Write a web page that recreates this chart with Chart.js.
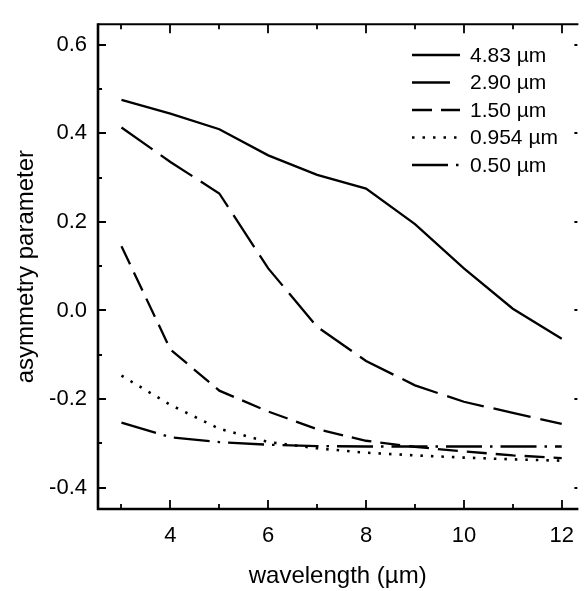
<!DOCTYPE html>
<html><head><meta charset="utf-8">
<script src="https://cdn.jsdelivr.net/npm/chart.js@4.4.0/dist/chart.umd.min.js"></script>
<style>html,body{margin:0;padding:0;background:#fff}#wrap{width:588px;height:591px}</style>
</head><body><div id="wrap"><canvas id="c" width="588" height="591"></canvas></div>
<script>
const wavelengths = [3,4,5,6,7,8,9,10,11,12];
const seriesLabels = ['4.83 \u00b5m','2.90 \u00b5m','1.50 \u00b5m','0.954 \u00b5m','0.50 \u00b5m'];
const g483  = [0.475,0.444,0.409,0.350,0.306,0.275,0.195,0.095,0.004,-0.064];
const g290  = [0.413,0.335,0.264,0.095,-0.037,-0.114,-0.169,-0.206,-0.231,-0.256];
const g150  = [0.145,-0.088,-0.181,-0.228,-0.268,-0.294,-0.308,-0.318,-0.327,-0.333];
const g0954 = [-0.147,-0.213,-0.267,-0.297,-0.311,-0.321,-0.327,-0.332,-0.336,-0.339];
const g050  = [-0.253,-0.286,-0.297,-0.303,-0.306,-0.307,-0.307,-0.307,-0.307,-0.307];
const xTicks = [4,6,8,10,12];
const xMinorTicks = [3,5,7,9,11];
const yTicks = [-0.4,-0.2,0.0,0.2,0.4,0.6];
const yMinorTicks = [-0.3,-0.1,0.1,0.3,0.5];

const seriesValues = [g483,g290,g150,g0954,g050];
const dashes = [[],[38,10],[20,9],[2.5,8],[36,8,2.5,8]];
const legendLen = [48,40,48,48,48];
const FONT = 'Liberation Sans, Arial, sans-serif';

const datasets = seriesValues.map((vals,i)=>({
  label: seriesLabels[i],
  data: wavelengths.map((w,j)=>({x:w,y:vals[j]})),
  borderColor:'#000', borderWidth: i===3?2.6:2.3, borderDash: dashes[i],
  pointRadius:0, tension:0, fill:false, borderCapStyle:'butt'
}));

const framePlugin = {
  id:'frame',
  afterDraw(chart){
    const {ctx, chartArea:a, scales:{x,y}} = chart;
    ctx.save();
    ctx.strokeStyle='#000';
    ctx.lineCap='butt';
    ctx.lineWidth=2.6;
    ctx.beginPath();
    ctx.moveTo(a.left, a.top-1); ctx.lineTo(a.left, a.bottom);
    ctx.lineTo(a.right+1, a.bottom);
    ctx.stroke();
    ctx.lineWidth=2;
    ctx.beginPath(); ctx.moveTo(a.left, a.top); ctx.lineTo(a.right+1, a.top); ctx.stroke();
    ctx.lineWidth=1.8;
    ctx.beginPath();
    xTicks.forEach(v=>{const p=Math.round(x.getPixelForValue(v));
      ctx.moveTo(p,a.bottom); ctx.lineTo(p,a.bottom-9);
      ctx.moveTo(p,a.top); ctx.lineTo(p,a.top+9);});
    xMinorTicks.forEach(v=>{const p=Math.round(x.getPixelForValue(v));
      ctx.moveTo(p,a.bottom); ctx.lineTo(p,a.bottom-5);
      ctx.moveTo(p,a.top); ctx.lineTo(p,a.top+5);});
    yTicks.forEach(v=>{const p=Math.round(y.getPixelForValue(v));
      ctx.moveTo(a.left,p); ctx.lineTo(a.left+8,p);
      ctx.moveTo(a.right,p); ctx.lineTo(a.right-3,p);});
    yMinorTicks.forEach(v=>{const p=Math.round(y.getPixelForValue(v));
      ctx.moveTo(a.left,p); ctx.lineTo(a.left+4,p);});
    ctx.stroke();
    // legend
    ctx.font = '21px '+FONT;
    ctx.fillStyle='#000';
    ctx.textBaseline='middle';
    ctx.textAlign='left';
    chart.data.datasets.forEach((ds,i)=>{
      const yy = 55 + i*27.5;
      ctx.lineWidth = ds.borderWidth;
      ctx.setLineDash(ds.borderDash);
      ctx.beginPath(); ctx.moveTo(412,yy); ctx.lineTo(412+legendLen[i],yy); ctx.stroke();
      ctx.setLineDash([]);
      ctx.fillText(ds.label, 470, yy+1);
    });
    ctx.restore();
  }
};

new Chart(document.getElementById('c'),{
  type:'line',
  data:{datasets},
  options:{
    responsive:false, animation:false, devicePixelRatio:1,
    layout:{padding:{top:12,right:1,left:0,bottom:0}},
    plugins:{legend:{display:false},tooltip:{enabled:false}},
    scales:{
      x:{type:'linear', min:2.52, max:12.32,
        afterBuildTicks:s=>{s.ticks=xTicks.map(v=>({value:v}));},
        afterFit:s=>{s.height=82;},
        grid:{display:false,drawTicks:false}, border:{display:false},
        ticks:{color:'#000',font:{family:FONT,size:22},padding:14,maxRotation:0,callback:v=>String(v)},
        title:{display:true,text:'wavelength (\u00b5m)',color:'#000',font:{family:FONT,size:24},padding:{top:0,bottom:0}}
      },
      y:{type:'linear', min:-0.448, max:0.646,
        afterBuildTicks:s=>{s.ticks=yTicks.map(v=>({value:v}));},
        afterFit:s=>{s.width=98;},
        grid:{display:false,drawTicks:false}, border:{display:false},
        ticks:{color:'#000',font:{family:FONT,size:22},padding:11,callback:v=>Number(v).toFixed(1)},
        title:{display:true,text:'asymmetry parameter',color:'#000',font:{family:FONT,size:24},padding:{top:12,bottom:0}}
      }
    }
  },
  plugins:[framePlugin]
});
</script></body></html>
